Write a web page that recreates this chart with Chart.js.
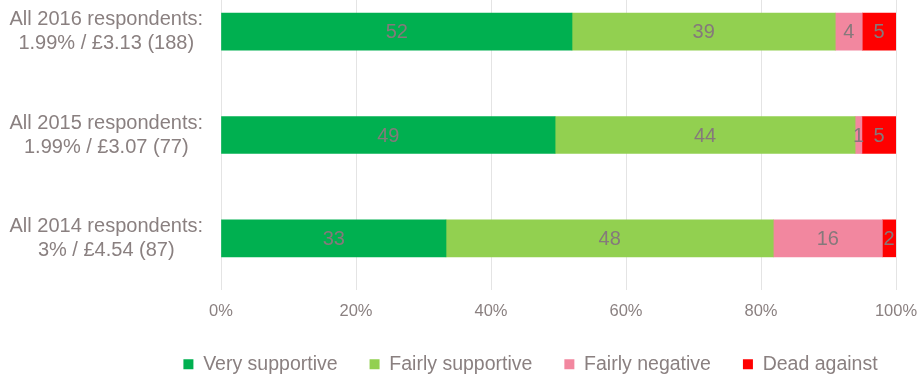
<!DOCTYPE html>
<html>
<head>
<meta charset="utf-8">
<script src="https://cdn.jsdelivr.net/npm/chart.js@4.4.1/dist/chart.umd.min.js"></script>
<style>
    html, body { margin: 0; padding: 0; overflow: hidden; background: #fff; width: 919px; height: 378px; }
    #wrap { position: absolute; left: 0; top: -20px; width: 919px; height: 415px; }
</style>
</head>
<body>
<div id="wrap"><canvas id="supportChart"></canvas></div>
<script>
// categories (top to bottom)
const groups = [
    ['All 2016 respondents:', '1.99% / £3.13 (188)'],
    ['All 2015 respondents:', '1.99% / £3.07 (77)'],
    ['All 2014 respondents:', '3% / £4.54 (87)']
];
const seriesNames = ['Very supportive', 'Fairly supportive', 'Fairly negative', 'Dead against'];
const verySupportive = [52, 49, 33];
const fairlySupportive = [39, 44, 48];
const fairlyNegative = [4, 1, 16];
const deadAgainst = [5, 5, 2];
const xTicks = [0, 20, 40, 60, 80, 100];
const colours = ['#00b050', '#92d050', '#f2879f', '#ff0000'];

const textGrey = '#8a8080';
const fontFamily = '"Liberation Sans", Arial, sans-serif';

// 100% stacked: each row scaled to its own total
const rows = [verySupportive, fairlySupportive, fairlyNegative, deadAgainst];
const totals = groups.map((g, j) => rows.reduce((s, r) => s + r[j], 0));

const datasets = rows.map((values, i) => ({
    label: seriesNames[i],
    data: values.map((v, j) => v / totals[j] * 100),
    rawValues: values,
    backgroundColor: colours[i],
    borderWidth: 0,
    barThickness: 37
}));

// numbers written in the middle of each segment
const barValueLabels = {
    id: 'barValueLabels',
    afterDatasetsDraw(chart) {
        const ctx = chart.ctx;
        ctx.save();
        ctx.font = '20px ' + fontFamily;
        ctx.fillStyle = '#85797b';
        ctx.textAlign = 'center';
        ctx.textBaseline = 'middle';
        chart.data.datasets.forEach((ds, i) => {
            chart.getDatasetMeta(i).data.forEach((bar, j) => {
                const { x, base, y } = bar.getProps(['x', 'base', 'y'], true);
                ctx.fillText(ds.rawValues[j], (x + base) / 2, y + 1);
            });
        });
        ctx.restore();
    }
};

// move the legend a little right of the canvas centre and closer to the axis
const legendShift = {
    id: 'legendShift',
    afterLayout(chart) {
        const lg = chart.legend;
        if (!lg) return;
        const dx = 530.5 - (lg.left + lg.right) / 2;
        const dy = 404 - lg.bottom;
        lg.left += dx;
        lg.right += dx;
        lg.top += dy;
        lg.bottom += dy;
    }
};

const ctx = document.getElementById('supportChart').getContext('2d');
const supportChart = new Chart(ctx, {
    type: 'bar',
    data: {
        labels: groups,
        datasets: datasets
    },
    plugins: [barValueLabels, legendShift],
    options: {
        indexAxis: 'y',
        responsive: true,
        maintainAspectRatio: false,
        animation: false,
        layout: {
            padding: { left: 8, right: 23, top: 0, bottom: 0 }
        },
        scales: {
            x: {
                stacked: true,
                min: 0,
                max: 100,
                afterBuildTicks: function(scale) {
                    scale.ticks = xTicks.map(v => ({ value: v }));
                },
                afterFit: function(scale) {
                    scale.paddingLeft = 0;
                    scale.paddingRight = 0;
                },
                border: { display: false },
                grid: {
                    color: '#e4e4e4',
                    lineWidth: 1,
                    drawTicks: false
                },
                ticks: {
                    padding: 10,
                    color: textGrey,
                    font: { family: fontFamily, size: 16.5, lineHeight: 1.424 },
                    maxRotation: 0,
                    callback: function(value) {
                        return value + '%';
                    }
                }
            },
            y: {
                stacked: true,
                afterFit: function(scale) {
                    scale.width = 213;
                    scale.paddingTop = 0;
                    scale.paddingBottom = 0;
                },
                border: { display: false },
                grid: { display: false, drawTicks: false },
                ticks: {
                    crossAlign: 'center',
                    padding: 18,
                    color: textGrey,
                    font: { family: fontFamily, size: 20, lineHeight: 1.2 }
                }
            }
        },
        plugins: {
            legend: {
                display: true,
                position: 'bottom',
                labels: {
                    boxWidth: 10,
                    boxHeight: 10,
                    padding: 32,
                    color: textGrey,
                    font: { family: fontFamily, size: 19.5 }
                }
            },
            tooltip: { enabled: false }
        }
    }
});
</script>
</body>
</html>
